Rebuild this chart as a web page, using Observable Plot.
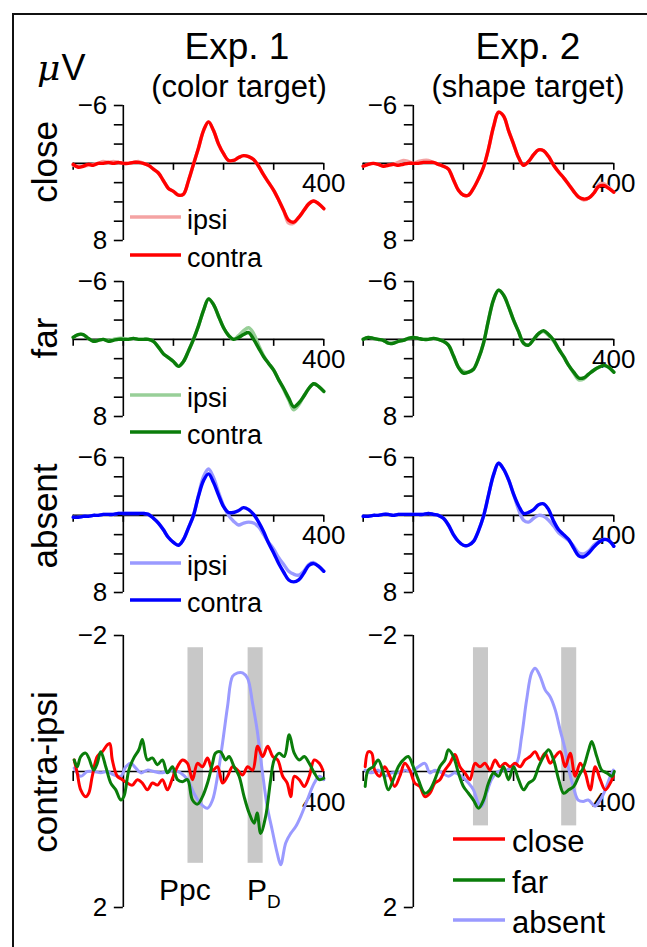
<!DOCTYPE html>
<html><head><meta charset="utf-8">
<script src="https://cdn.jsdelivr.net/npm/d3@7"></script>
<script src="https://cdn.jsdelivr.net/npm/@observablehq/plot@0.6"></script>
<style>
html,body{margin:0;padding:0;background:#fff;}
#fig{position:relative;width:647px;height:947px;overflow:hidden;background:#fff;font-family:"Liberation Sans",Arial,sans-serif;}
#frame{position:absolute;left:12px;top:13px;width:700px;height:1000px;border-left:2px solid #111;border-top:2px solid #111;}
#fig svg{position:absolute;left:0;top:0;}
</style></head>
<body><div id="fig"><div id="frame"></div></div>
<script>
// ---------------- DATA ----------------
const X_DOMAIN = [-100, 400];
const xTicks = [-100, 0, 100, 200, 300, 400];
const xLabelTicks = [400];
const erpYDomain = [-6, 8];
const erpYTicks = [-6, -4, -2, 0, 2, 4, 6, 8];
const erpYLabels = [-6, 8];
const diffYDomain = [-2, 2];
const diffYTicks = [-2, 2];

const erpTimes = [-100,-90,-80,-70,-60,-50,-40,-30,-20,-10,0,10,20,30,40,50,60,70,80,90,100,110,120,130,140,150,160,170,180,190,200,210,220,230,240,250,260,270,280,290,300,310,320,330,340,350,360,370,380,390,400];

// Exp. 1 (color target)
const exp1CloseContra = [0.1,0.4,0.3,0.1,0.2,0.0,0.0,-0.1,0.0,-0.1,0.0,0.0,-0.1,-0.1,0.0,0.2,0.6,1.0,1.8,2.6,2.9,3.3,3.2,1.8,0.1,-1.6,-3.4,-4.3,-3.4,-2.0,-1.0,-0.3,-0.3,-0.6,-0.8,-0.7,-0.4,0.3,1.2,2.0,2.8,3.8,4.9,5.9,6.1,5.6,4.9,4.2,3.9,4.2,4.7];
const exp1CloseIpsi   = [0.2,0.3,0.3,0.2,0.1,0.0,-0.2,-0.1,-0.2,-0.1,0.0,0.0,-0.1,-0.2,0.0,0.2,0.6,1.0,1.8,2.6,2.9,3.3,3.2,1.8,0.1,-1.6,-3.4,-4.3,-3.4,-2.0,-1.0,-0.3,-0.3,-0.6,-0.8,-0.7,-0.4,0.3,1.2,2.0,2.8,3.8,4.9,6.2,6.2,5.6,4.9,4.2,3.9,4.2,4.7];
const exp1FarContra   = [-0.2,-0.5,-0.5,-0.1,0.2,0.1,0.0,0.2,0.1,0.0,0.0,0.0,-0.1,0.0,0.0,0.0,0.2,0.8,1.5,1.9,2.3,2.8,2.3,1.2,0.0,-1.4,-3.0,-4.2,-3.6,-2.4,-1.2,-0.4,0.0,-0.2,-0.5,-0.7,0.0,0.9,1.8,2.5,3.2,4.2,5.1,6.1,7.0,6.6,5.9,5.1,4.6,4.9,5.4];
const exp1FarIpsi     = [-0.2,-0.5,-0.5,-0.1,0.2,0.1,0.0,0.1,0.0,-0.1,-0.1,0.0,-0.1,0.0,0.0,0.0,0.2,0.8,1.5,1.9,2.3,2.8,2.3,1.2,0.0,-1.4,-3.0,-4.2,-3.6,-2.4,-1.2,-0.4,0.0,-0.4,-0.9,-1.2,-0.6,0.6,1.7,2.5,3.2,4.2,5.2,6.3,7.3,6.8,5.9,5.1,4.6,4.9,5.4];
const exp1AbsContra   = [0.2,0.2,0.1,0.1,0.0,0.0,-0.1,-0.1,-0.1,-0.2,-0.2,-0.2,-0.2,-0.2,-0.2,-0.1,0.3,0.8,1.5,2.3,2.8,3.1,2.5,1.3,0.0,-2.0,-3.6,-4.3,-3.4,-2.1,-0.9,-0.3,-0.3,-0.5,-0.8,-0.6,-0.1,0.7,1.7,2.9,3.9,5.0,5.9,6.7,6.9,6.7,6.0,5.2,5.0,5.3,5.8];
const exp1AbsIpsi     = [0.2,0.2,0.1,0.1,0.0,0.0,-0.1,-0.1,-0.1,-0.2,-0.2,-0.2,-0.2,-0.2,-0.2,-0.1,0.3,0.8,1.5,2.3,2.8,3.1,2.5,1.3,0.0,-2.1,-4.0,-4.8,-3.9,-2.4,-1.0,0.0,0.6,1.0,0.8,0.7,0.8,1.2,2.0,2.8,3.5,4.4,5.1,5.8,6.1,6.2,5.8,5.1,4.9,5.3,5.8];

// Exp. 2 (shape target)
const exp2CloseContra = [0.3,0.1,0.0,0.1,0.3,0.2,0.1,0.2,0.1,0.0,0.0,0.0,-0.1,-0.1,-0.1,0.1,0.3,0.6,1.7,2.8,3.3,3.3,2.6,1.6,0.4,-1.5,-3.8,-5.3,-4.9,-3.4,-2.0,-0.6,0.2,-0.2,-0.9,-1.4,-1.3,-0.7,0.2,0.9,1.5,2.2,2.9,3.5,3.7,3.6,3.1,2.4,2.3,2.6,3.0];
const exp2CloseIpsi   = [0.3,0.1,0.0,0.1,0.3,0.2,0.1,-0.1,-0.3,-0.2,0.0,-0.2,-0.3,-0.3,-0.1,0.1,0.3,0.6,1.7,2.8,3.3,3.3,2.6,1.6,0.4,-1.5,-3.8,-5.3,-4.9,-3.4,-2.0,-0.6,0.2,-0.2,-0.9,-1.4,-1.3,-0.7,0.2,0.9,1.5,2.2,2.9,3.5,3.8,3.6,3.1,2.2,2.1,2.5,3.0];
const exp2FarContra   = [0.0,-0.2,-0.1,0.0,0.1,0.4,0.4,0.2,0.1,-0.1,-0.2,-0.1,0.0,0.0,-0.1,0.0,0.2,0.6,1.7,2.9,3.5,3.4,3.1,2.0,0.4,-2.0,-4.1,-5.1,-4.6,-3.4,-2.0,-0.8,0.4,0.6,0.0,-0.6,-0.9,-0.5,0.1,1.0,1.8,2.7,3.4,4.0,4.0,3.6,3.2,2.9,2.7,2.9,3.4];
const exp2FarIpsi     = [0.0,-0.2,-0.1,0.0,0.1,0.4,0.4,0.2,0.1,-0.1,-0.2,-0.1,0.0,0.0,-0.1,0.0,0.2,0.6,1.7,2.9,3.3,3.4,3.1,2.0,0.4,-2.0,-4.1,-5.1,-4.6,-3.4,-2.0,-0.8,0.4,0.6,0.0,-0.6,-0.8,-0.4,0.2,1.0,1.8,2.7,3.5,4.2,4.1,3.6,3.2,2.9,2.7,2.9,3.4];
const exp2AbsContra   = [0.1,0.1,0.0,0.0,-0.1,-0.1,0.0,-0.1,-0.1,-0.1,-0.1,-0.1,-0.1,-0.2,-0.1,0.0,0.3,1.0,2.0,2.7,3.1,3.1,2.7,1.6,0.1,-2.1,-4.2,-5.4,-4.8,-3.7,-2.2,-1.0,-0.2,-0.3,-0.6,-1.1,-1.2,-0.6,0.6,1.5,2.0,2.5,3.4,4.2,4.3,3.9,3.3,2.8,2.5,2.6,3.2];
const exp2AbsIpsi     = [0.1,0.1,0.0,0.0,-0.1,-0.1,0.0,-0.1,-0.1,-0.1,-0.1,-0.1,-0.1,-0.2,-0.1,0.0,0.3,1.0,2.0,2.7,3.1,3.1,2.7,1.6,0.1,-2.1,-4.2,-5.4,-4.8,-3.7,-2.2,-0.6,0.5,0.7,0.3,0.0,0.1,0.5,1.1,1.8,2.2,2.6,3.2,3.9,4.0,3.7,3.1,2.7,2.5,2.6,3.2];

// contra-ipsi difference waves: [time ms, µV]
const exp1DiffClose = [[-98,-0.17],[-92,0.02],[-85,0.27],[-75,0.37],[-69,0.32],[-62,0.07],[-52,-0.22],[-42,-0.29],[-32,-0.39],[-27,-0.41],[-22,-0.17],[-12,0.07],[-2,0.12],[8,0.17],[18,0.2],[28,0.12],[38,0.17],[48,0.27],[58,0.17],[68,0.2],[78,0.12],[88,0.27],[98,0.1],[108,-0.07],[118,-0.17],[128,-0.12],[138,0.12],[148,-0.12],[158,-0.07],[168,-0.2],[178,-0.02],[188,-0.07],[198,0.17],[208,0.07],[218,-0.07],[228,-0.02],[238,0.05],[248,-0.07],[258,-0.02],[268,-0.37],[278,-0.22],[288,-0.37],[298,-0.22],[308,-0.17],[318,0.07],[327,0.17],[334,0.37],[341,0.07],[351,0.12],[361,0.22],[371,0.07],[381,-0.17],[391,-0.12],[398,-0.02]];
const exp1DiffFar = [[-98,-0.17],[-92,-0.07],[-85,-0.22],[-75,-0.27],[-69,-0.2],[-59,-0.02],[-52,-0.12],[-45,-0.29],[-35,-0.07],[-25,0.17],[-15,0.27],[-5,0.42],[1,0.37],[11,-0.02],[21,-0.2],[31,-0.32],[38,-0.47],[48,-0.17],[58,-0.2],[68,-0.1],[78,-0.17],[88,0.02],[98,-0.07],[108,0.12],[118,0.15],[128,0.12],[138,0.42],[148,0.48],[158,0.37],[168,0.17],[178,-0.12],[184,-0.27],[194,-0.29],[204,-0.17],[211,-0.22],[221,-0.07],[231,0.07],[241,0.37],[251,0.61],[261,0.76],[267,0.61],[274,0.91],[284,0.66],[294,0.12],[301,-0.17],[311,-0.27],[321,-0.22],[331,-0.54],[341,-0.27],[351,-0.17],[361,-0.22],[371,-0.12],[381,0.02],[391,0.12],[400,0.1]];
const exp1DiffAbsent = [[-98,-0.05],[-85,0.07],[-72,0],[-59,0],[-45,0.02],[-32,0],[-19,0.05],[-5,0.07],[5,-0.07],[15,-0.12],[25,-0.05],[35,0.02],[48,-0.02],[61,0],[75,0.02],[88,0],[101,-0.02],[114,0.02],[128,0.12],[141,0.32],[154,0.47],[168,0.54],[178,0.42],[188,0.07],[198,-0.42],[208,-0.96],[218,-1.4],[228,-1.45],[238,-1.45],[248,-1.37],[258,-1.0],[267,-0.61],[277,-0.02],[287,0.51],[297,0.86],[307,1.2],[314,1.37],[324,1.05],[334,0.91],[344,0.81],[354,0.66],[367,0.42],[381,0.17],[391,0.07],[400,0.12]];
const exp2DiffClose = [[-96,-0.07],[-90,-0.29],[-83,-0.27],[-77,-0.02],[-67,0.07],[-57,-0.07],[-47,0.07],[-37,0.22],[-27,0.07],[-17,-0.12],[-7,-0.02],[3,0.17],[13,0.22],[23,0.37],[33,0.32],[43,0.17],[53,0.12],[63,-0.02],[73,-0.12],[83,-0.25],[93,-0.07],[103,0.02],[113,0.12],[123,-0.12],[133,-0.07],[143,-0.12],[153,-0.02],[163,-0.17],[173,-0.07],[183,-0.12],[193,-0.07],[203,-0.12],[213,-0.07],[223,-0.17],[233,-0.22],[243,-0.29],[253,-0.17],[263,-0.27],[273,-0.12],[283,-0.22],[293,-0.29],[303,-0.07],[313,-0.27],[323,0.07],[333,-0.12],[343,0.02],[353,0.27],[363,-0.07],[373,0.12],[383,0.27],[393,0.17],[399,0.07]];
const exp2DiffFar = [[-96,0.22],[-90,-0.02],[-80,-0.07],[-70,-0.17],[-60,0.02],[-50,0.27],[-40,0.12],[-30,-0.07],[-20,-0.17],[-10,-0.22],[0,-0.07],[10,0.12],[23,0.32],[33,0.27],[43,0.12],[53,-0.07],[63,-0.17],[70,-0.32],[80,-0.22],[90,0.02],[100,0.22],[110,0.32],[120,0.42],[130,0.54],[140,0.42],[150,0.17],[160,0.02],[170,0.07],[180,-0.07],[190,0.12],[200,-0.07],[210,0.12],[220,0.27],[230,0.17],[240,0.12],[250,-0.07],[260,-0.22],[270,-0.32],[280,-0.17],[290,0.12],[300,0.32],[310,0.27],[320,0.22],[330,0.07],[340,-0.07],[350,-0.32],[356,-0.44],[366,-0.22],[376,-0.02],[386,0.02],[396,0.07],[401,0]];
const exp2DiffAbsent = [[-96,-0.02],[-83,0.02],[-70,-0.02],[-57,0.07],[-43,0.02],[-30,0.02],[-17,-0.02],[-3,0],[10,-0.07],[23,-0.12],[33,0.02],[43,-0.02],[57,0.02],[70,0.07],[83,0.02],[96,0.07],[110,0.17],[120,0.27],[130,0.47],[136,0.51],[146,0.32],[156,0.12],[166,0.02],[176,-0.02],[186,-0.02],[196,-0.07],[206,-0.12],[216,-0.51],[226,-1.05],[236,-1.45],[243,-1.52],[253,-1.4],[263,-1.2],[273,-1.1],[283,-0.91],[293,-0.61],[303,-0.32],[309,-0.07],[319,0.22],[329,0.42],[339,0.44],[349,0.42],[363,0.51],[373,0.42],[383,0.27],[393,0.07],[399,-0.02]];

// analysis windows (grey bars): time range and µV extent
const exp1Windows = [{name: "Ppc", t1: 129, t2: 160, v1: -1.82, v2: 1.35}, {name: "PD", t1: 249, t2: 279, v1: -1.82, v2: 1.35}];
const exp2Windows = [{name: "Ppc", t1: 120, t2: 150, v1: -1.82, v2: 0.8}, {name: "PD", t1: 296, t2: 326, v1: -1.82, v2: 0.8}];

const conditions = ["close", "far", "absent"];
const columnTitles = ["Exp. 1", "Exp. 2"];
const columnSubtitles = ["(color target)", "(shape target)"];
const sideLegend = ["ipsi", "contra"];

// ---------------- STYLE / LAYOUT ----------------
const FONT = "'Liberation Sans', Arial, Helvetica, sans-serif";
const W = 647, H = 947;
const TICK_FONT = 26;
const colors = {
  close: {contra: "#ff0000", ipsi: "#f4a3a3"},
  far: {contra: "#0a7d0a", ipsi: "#98cf98"},
  absent: {contra: "#0000ff", ipsi: "#9a9aff"}
};
const colLeft = [72.7, 362.7];   // pixel of t = -100
const colWidth = 250.6;
const rowTop = [105, 281, 457];  // pixel of -6 µV
const rowSpan = 135;
const diffTop = 635, diffBottom = 907;

const fmt = d => d < 0 ? "\u2212" + Math.abs(d) : String(d);
const fig = document.getElementById("fig");

function xGeom(col) {
  const xL = colLeft[col], xR = xL + colWidth;
  const x0 = xL + colWidth * (0 - X_DOMAIN[0]) / (X_DOMAIN[1] - X_DOMAIN[0]);
  return {xL, xR, x0};
}

function panel(col, yDom, yRange, yTicks, yLabels, xTickSize, xTickPad, marks) {
  const {xL, xR, x0} = xGeom(col);
  const yZ = yRange[0] + (yRange[1] - yRange[0]) * (0 - yDom[0]) / (yDom[1] - yDom[0]);
  return Plot.plot({
    width: W, height: H,
    marginLeft: x0, marginRight: W - xR, marginTop: yRange[0], marginBottom: H - yZ,
    x: {domain: X_DOMAIN, range: [xL, xR], label: null},
    y: {domain: yDom, range: yRange, label: null},
    style: {background: "transparent", overflow: "visible", fontFamily: FONT, fontSize: TICK_FONT + "px", color: "#000"},
    marks: [
      ...marks.under,
      Plot.ruleY([0], {x1: X_DOMAIN[0], x2: X_DOMAIN[1], stroke: "#000", strokeWidth: 1.6}),
      Plot.ruleX([0], {y1: yDom[0], y2: yDom[1], stroke: "#000", strokeWidth: 1.6}),
      Plot.axisX({anchor: "bottom", ticks: xTicks, tickSize: xTickSize, tickPadding: xTickPad, strokeWidth: 1.6,
        tickFormat: d => xLabelTicks.includes(d) ? String(d) : "", fontSize: TICK_FONT, label: null}),
      Plot.axisY({anchor: "left", ticks: yTicks, tickSize: 9, tickPadding: 7, strokeWidth: 1.6,
        tickFormat: d => yLabels.includes(d) ? fmt(d) : "", fontSize: TICK_FONT, label: null}),
      ...marks.over
    ]
  });
}

const erpSets = [
  [[exp1CloseIpsi, exp1CloseContra], [exp1FarIpsi, exp1FarContra], [exp1AbsIpsi, exp1AbsContra]],
  [[exp2CloseIpsi, exp2CloseContra], [exp2FarIpsi, exp2FarContra], [exp2AbsIpsi, exp2AbsContra]]
];
const toRows = vals => erpTimes.map((t, i) => ({t, v: vals[i]}));

for (let col = 0; col < 2; col++) {
  for (let row = 0; row < 3; row++) {
    const cond = conditions[row];
    const [ipsi, contra] = erpSets[col][row];
    const svg = panel(col, erpYDomain, [rowTop[row], rowTop[row] + rowSpan], erpYTicks, erpYLabels, 7, 3, {
      under: [],
      over: [
        Plot.line(toRows(ipsi), {x: "t", y: "v", stroke: colors[cond].ipsi, strokeWidth: 3.4, curve: "catmull-rom"}),
        Plot.line(toRows(contra), {x: "t", y: "v", stroke: colors[cond].contra, strokeWidth: 3.4, curve: "catmull-rom"})
      ]
    });
    fig.appendChild(svg);
  }
}

const diffSets = [
  {windows: exp1Windows, close: exp1DiffClose, far: exp1DiffFar, absent: exp1DiffAbsent},
  {windows: exp2Windows, close: exp2DiffClose, far: exp2DiffFar, absent: exp2DiffAbsent}
];
for (let col = 0; col < 2; col++) {
  const s = diffSets[col];
  const svg = panel(col, diffYDomain, [diffTop, diffBottom], diffYTicks, diffYTicks, 10, 11, {
    under: [Plot.rect(s.windows, {x1: "t1", x2: "t2", y1: "v1", y2: "v2", fill: "#c8c8c8"})],
    over: [
      Plot.line(s.absent, {x: d => d[0], y: d => d[1], stroke: colors.absent.ipsi, strokeWidth: 3, curve: "catmull-rom"}),
      Plot.line(s.close, {x: d => d[0], y: d => d[1], stroke: colors.close.contra, strokeWidth: 3, curve: "catmull-rom"}),
      Plot.line(s.far, {x: d => d[0], y: d => d[1], stroke: colors.far.contra, strokeWidth: 3, curve: "catmull-rom"})
    ]
  });
  fig.appendChild(svg);
}

// ---------------- ANNOTATIONS ----------------
const ann = d3.select(fig).append("svg").attr("width", W).attr("height", H)
  .style("font-family", FONT).style("overflow", "visible");
function text(x, y, s, size, anchor = "start") {
  return ann.append("text").attr("x", x).attr("y", y).attr("font-size", size)
    .attr("text-anchor", anchor).attr("fill", "#000").text(s);
}
// column titles
text(237, 59, columnTitles[0], 37, "middle");
text(239, 97, columnSubtitles[0], 31, "middle");
text(528, 59, columnTitles[1], 37, "middle");
text(528, 97, columnSubtitles[1], 31, "middle");
// unit
const uv = ann.append("text").attr("x", 37).attr("y", 80).attr("font-size", 36);
uv.append("tspan").attr("font-family", "'DejaVu Serif', 'Liberation Serif', serif").attr("font-style", "italic").text("\u03bc");
uv.append("tspan").attr("dx", 1).text("V");
// row labels
const rowLabelY = [162, 338, 516, 772];
["close", "far", "absent", "contra-ipsi"].forEach((s, i) => {
  ann.append("text").attr("transform", `translate(57,${rowLabelY[i]}) rotate(-90)`)
    .attr("font-size", 35).attr("text-anchor", "middle").attr("fill", "#000").text(s);
});
// ipsi / contra legends
const legIpsiY = [217, 395, 563], legContraY = [255, 432, 600];
conditions.forEach((c, i) => {
  [[legIpsiY[i], colors[c].ipsi, sideLegend[0]], [legContraY[i], colors[c].contra, sideLegend[1]]].forEach(([y, col, lab]) => {
    ann.append("line").attr("x1", 130).attr("x2", 181).attr("y1", y).attr("y2", y)
      .attr("stroke", col).attr("stroke-width", 3.6);
    text(187, y + 11.5, lab, 27);
  });
});
// condition legend (bottom right)
const legY = [839, 880, 920];
const legCols = [colors.close.contra, colors.far.contra, colors.absent.ipsi];
conditions.forEach((c, i) => {
  ann.append("line").attr("x1", 453).attr("x2", 505).attr("y1", legY[i]).attr("y2", legY[i])
    .attr("stroke", legCols[i]).attr("stroke-width", 3.6);
  text(512, legY[i] + 12.5, c, 31);
});
// component labels
text(159, 900, "Ppc", 30);
const pd = ann.append("text").attr("x", 247).attr("y", 900).attr("font-size", 30).attr("fill", "#000");
pd.append("tspan").text("P");
pd.append("tspan").attr("font-size", 19).attr("dy", 8).text("D");
</script>
</body></html>
